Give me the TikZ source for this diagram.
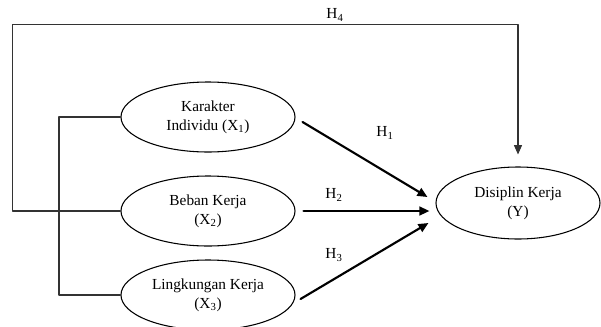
\documentclass[tikz,border=0pt]{standalone}
\usepackage{fontspec}
\setmainfont{Liberation Serif}
\usetikzlibrary{shapes.geometric}
\usetikzlibrary{arrows.meta}
\usetikzlibrary{calc}

\begin{document}
\begin{tikzpicture}[line cap=round,line join=round,x=0.75pt,y=-0.75pt,
  var/.style={ellipse,draw=black,line width=0.8pt,inner sep=0pt,align=center,
    font=\fontsize{11.5}{14.5}\selectfont,minimum width=130.5pt,minimum height=52.5pt},
  hyp/.style={line width=1.6pt,-{Triangle[length=7.5pt,width=6.5pt]}},
  thin/.style={line width=0.8pt,color=black!80},
  hlab/.style={font=\fontsize{11.5}{13}\selectfont}]
\useasboundingbox (0,0) rectangle (601,326);
%\clip (0,0) rectangle (601,326);
\node[var] (x1) at (208,117) {Karakter\\Individu (X\textsubscript{1})};
\node[var] (x2) at (208,211) {Beban Kerja\\(X\textsubscript{2})};
\node[var] (x3) at (208,295) {Lingkungan Kerja\\(X\textsubscript{3})};
\node[var,minimum width=123pt,minimum height=54pt] (y) at (518,203) {Disiplin Kerja\\(Y)};
% bracket on the left
\coordinate (bl) at (59,0);
\draw[thin] (x1.west) -- (x1.west -| bl) -- (x3.west -| bl) -- (x3.west);
% H4 round the top
\coordinate (tl) at (12.5,24.7);
\draw[thin,-{Triangle[length=7pt,width=6pt]},shorten >=9] (x2.west) -| (tl) -| (y.north);
\node[hlab] (h4) at (335,15) {H\textsubscript{4}};
% H1 H2 H3
\draw[hyp] ($(x1.east)+(7,5)$) -- ($(y.west)+(-8,-6)$);
\draw[hyp] ($(x2.east)+(8,0)$) -- ($(y.west)+(-6,8)$);
\draw[hyp] ($(x3.east)+(5,4)$) -- ($(y.west)+(-7,20)$);
\node[hlab] (h1) at (385,133) {H\textsubscript{1}};
\node[hlab] (h2) at (334,195) {H\textsubscript{2}};
\node[hlab] (h3) at (334,255) {H\textsubscript{3}};
\end{tikzpicture}
\end{document}
